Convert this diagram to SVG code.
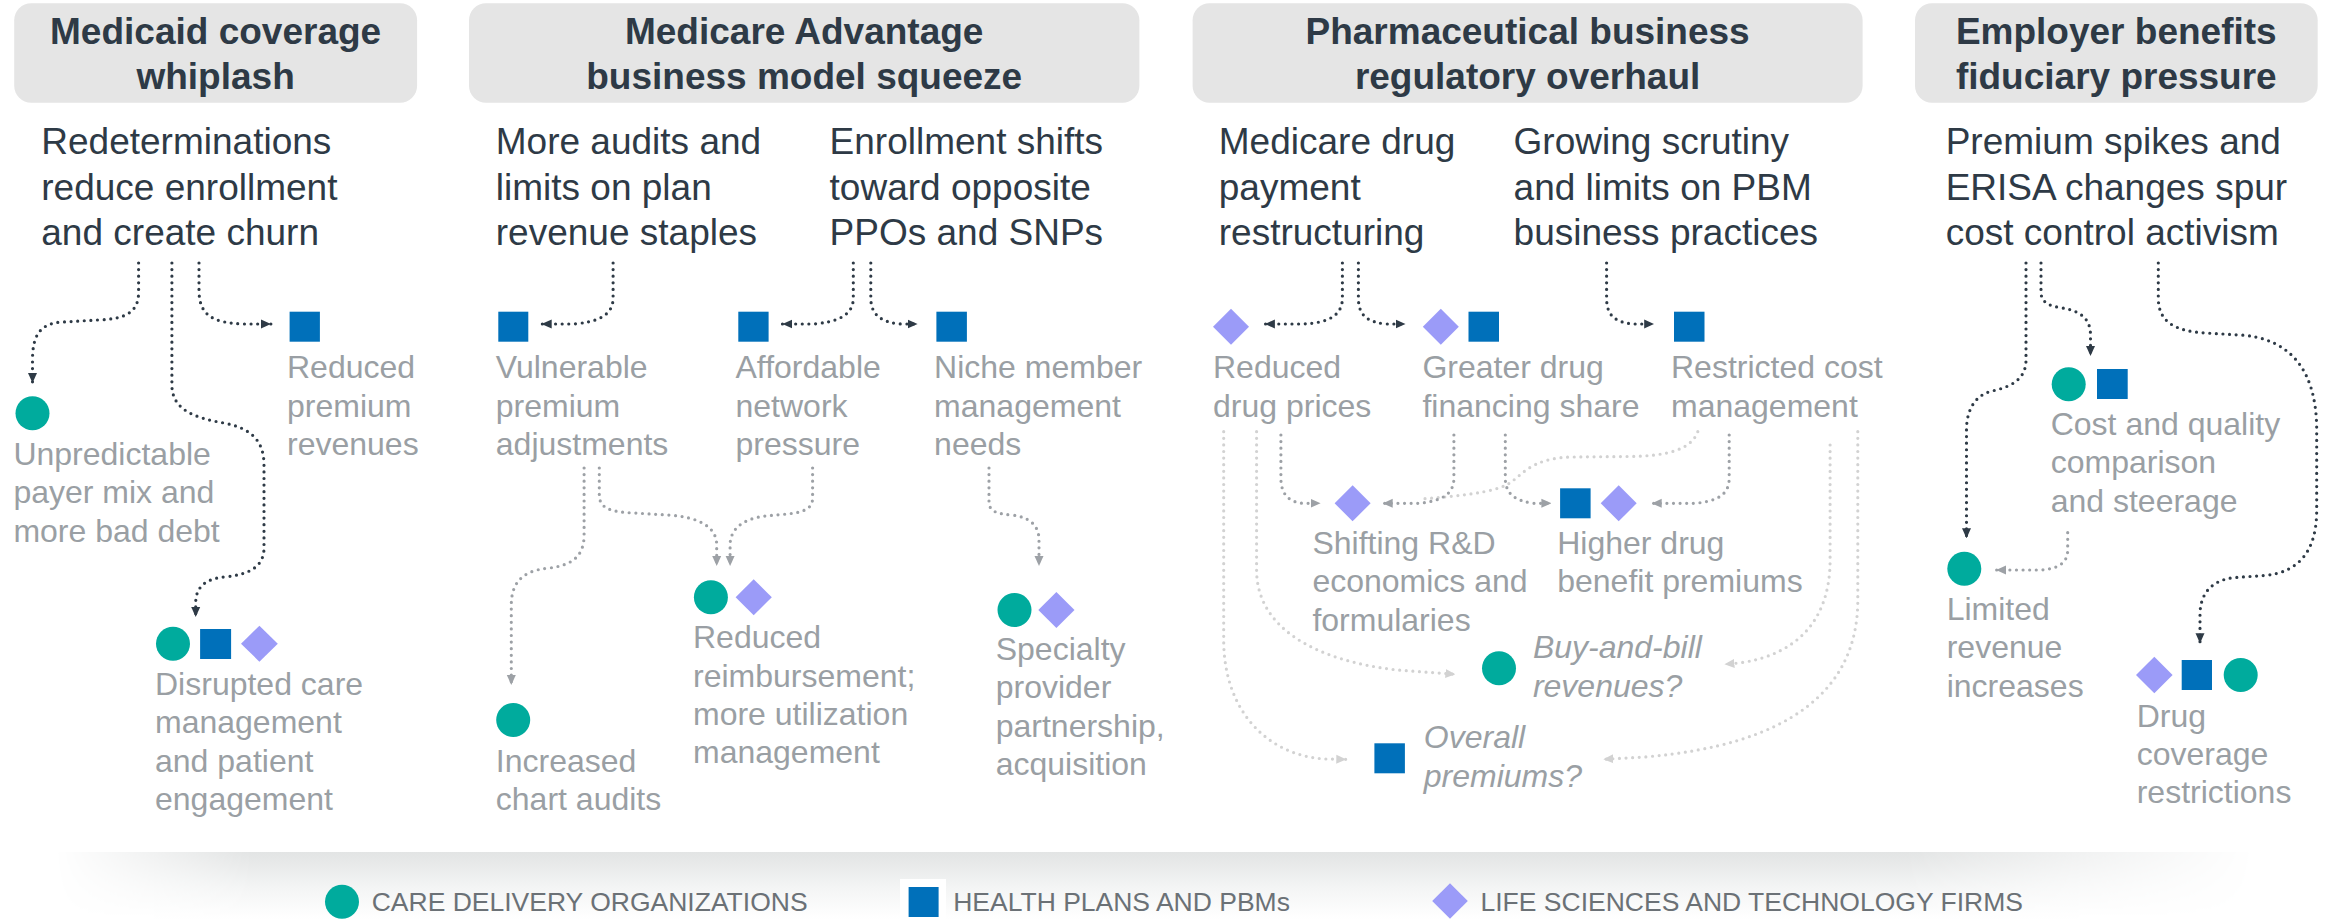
<svg xmlns="http://www.w3.org/2000/svg" width="2331" height="919" viewBox="0 0 2331 919">
  <style>
    .hdr { fill: #E5E5E5; }
    .ttl { font-family: "Liberation Sans", Arial, sans-serif; font-weight: bold; font-size: 37px; fill: #2E3A46; text-anchor: middle; }
    .src { font-family: "Liberation Sans", Arial, sans-serif; font-size: 37px; fill: #2E3A46; }
    .lbl { font-family: "Liberation Sans", Arial, sans-serif; font-size: 32px; fill: #9A9FA4; }
    .ital { font-style: italic; }
    .leg { font-family: "Liberation Sans", Arial, sans-serif; font-size: 26.5px; fill: #6B7176; }
    .care { fill: #00AB9D; }
    .plan { fill: #0070BA; }
    .life { fill: #9B9BF8; }
    .dot { fill: none; stroke-width: 3.2; stroke-linecap: round; stroke-dasharray: 0 6.6; }
    .dark { stroke: #2E3A46; marker-end: url(#arrDark); }
    .gray { stroke: #9DA1A6; marker-end: url(#arrGray); }
    .light { stroke: #D2D2D2; marker-end: url(#arrLight); }
    .light.open { marker-end: none; }
  </style>
  <defs>
    <marker id="arrDark" viewBox="0 0 10 10" refX="10" refY="5" markerWidth="10" markerHeight="10" markerUnits="userSpaceOnUse" orient="auto">
      <path d="M0,0.5 L10,5 L0,9.5 z" fill="#2E3A46"/>
    </marker>
    <marker id="arrGray" viewBox="0 0 10 10" refX="10" refY="5" markerWidth="10" markerHeight="10" markerUnits="userSpaceOnUse" orient="auto">
      <path d="M0,0.5 L10,5 L0,9.5 z" fill="#9DA1A6"/>
    </marker>
    <marker id="arrLight" viewBox="0 0 10 10" refX="10" refY="5" markerWidth="10" markerHeight="10" markerUnits="userSpaceOnUse" orient="auto">
      <path d="M0,0.5 L10,5 L0,9.5 z" fill="#D2D2D2"/>
    </marker>
    <linearGradient id="shadeV" x1="0" y1="0" x2="0" y2="1">
      <stop offset="0" stop-color="#E2E4E4"/>
      <stop offset="0.55" stop-color="#F4F5F5"/>
      <stop offset="1" stop-color="#FFFFFF"/>
    </linearGradient>
    <linearGradient id="fadeH" x1="0" y1="0" x2="1" y2="0">
      <stop offset="0" stop-color="#000"/>
      <stop offset="0.09" stop-color="#fff"/>
      <stop offset="0.84" stop-color="#fff"/>
      <stop offset="1" stop-color="#000"/>
    </linearGradient>
    <mask id="shadeMask" maskUnits="userSpaceOnUse" x="0" y="840" width="2331" height="79">
      <rect x="55" y="852" width="2200" height="67" fill="url(#fadeH)"/>
    </mask>
  </defs>

  <rect width="2331" height="919" fill="#FFFFFF"/>

  <!-- floor shadow under the columns -->
  <rect x="55" y="852" width="2200" height="67" fill="url(#shadeV)" mask="url(#shadeMask)"/>

  <!-- column headers -->
  <g id="hdr-medicaid">
    <rect class="hdr" x="14.2" y="3.3" width="402.9" height="99.4" rx="17"/>
    <text class="ttl"><tspan x="215.6" y="43.5">Medicaid coverage</tspan><tspan x="215.6" y="88.5">whiplash</tspan></text>
  </g>
  <g id="hdr-medicare">
    <rect class="hdr" x="469" y="3.3" width="670.4" height="99.4" rx="17"/>
    <text class="ttl"><tspan x="804.2" y="43.5">Medicare Advantage</tspan><tspan x="804.2" y="88.5">business model squeeze</tspan></text>
  </g>
  <g id="hdr-pharma">
    <rect class="hdr" x="1192.6" y="3.3" width="670" height="99.4" rx="17"/>
    <text class="ttl"><tspan x="1527.6" y="43.5">Pharmaceutical business</tspan><tspan x="1527.6" y="88.5">regulatory overhaul</tspan></text>
  </g>
  <g id="hdr-employer">
    <rect class="hdr" x="1915" y="3.3" width="402.7" height="99.4" rx="17"/>
    <text class="ttl"><tspan x="2116.3" y="43.5">Employer benefits</tspan><tspan x="2116.3" y="88.5">fiduciary pressure</tspan></text>
  </g>

  <!-- connectors -->
  <g id="connectors">
    <!-- Medicaid -->
    <path class="dot dark" d="M138.6,263 V292 C138.6,312 126.3,319 97.6,320 L63.1,322 C40.2,323 32.5,335 32.5,360 V383"/>
    <path class="dot dark" d="M171.9,263 V385 C171.9,410 195.2,418 223.9,423 C250.3,428 264,440 264,465 V548 C264,568 246.8,575 223.9,577 C204.3,579 195.7,588 195.7,603 V617"/>
    <path class="dot dark" d="M199,263 V290 C199,316 213.5,323 244.5,324 H270.9"/>
    <!-- Medicare Advantage -->
    <path class="dot dark" d="M613.1,263 V298 C613.1,316 596.6,322 573.8,324 H541.7"/>
    <path class="dot dark" d="M853.3,263 V298 C853.3,316 836.3,322 813.6,324 H782.4"/>
    <path class="dot dark" d="M870.8,263 V298 C870.8,316 883.2,323 902,324 H917.6"/>
    <path class="dot gray" d="M584.1,468 V535 C584.1,560 567.1,566 547.1,568.3 C520.3,571 511.3,585 511.3,605 V685"/>
    <path class="dot gray" d="M599.3,468 V495 C599.3,508 610,512 634.1,513 L667.6,515 C701.1,517 716.7,528 716.7,545 V566"/>
    <path class="dot gray" d="M812.6,468 V498 C812.6,510 801.5,513 781.4,514.5 L765.4,516 C741.3,519 730.1,530 730.1,545 V566"/>
    <path class="dot gray" d="M989,468 V502 C989,512 998.4,514 1011.8,515 C1029.2,517 1039,525 1039,540 V566"/>
    <!-- Pharmaceutical -->
    <path class="dot dark" d="M1342.4,263 V298 C1342.4,316 1327.4,323 1302.7,324 H1264.9"/>
    <path class="dot dark" d="M1358.4,263 V298 C1358.4,316 1368.2,322 1385.6,324 H1405.5"/>
    <path class="dot dark" d="M1606.6,263 V298 C1606.6,316 1615.3,322 1632.8,324 H1654.2"/>
    <path class="dot light" d="M1223.7,431.7 V640 C1223.7,710 1266.3,755 1324.5,759 L1346.3,759.3"/>
    <path class="dot light" d="M1256.6,431.7 V570 C1256.6,625 1309.9,660 1397.2,670 L1455.4,674.3"/>
    <path class="dot light" d="M1857.8,431.7 V600 C1857.8,690 1789.8,745 1644.4,757 L1603.3,759.3"/>
    <path class="dot light" d="M1830.1,445 V560 C1830.1,620 1797.1,655 1738.9,663 L1724.4,664.3"/>
    <path class="dot light open" d="M1697.8,431.7 C1691,450 1666.2,456 1629.9,456.5 L1571.7,457 C1528.1,458 1520.8,478 1506.3,485 C1491.9,492 1462.7,496 1420,499"/>
    <path class="dot gray" d="M1280.9,435 V478 C1280.9,495 1289.6,502 1302.7,503.3 H1320.6"/>
    <path class="dot gray" d="M1453.9,435 V478 C1453.9,495 1440.8,501 1419,503.3 H1382.7"/>
    <path class="dot gray" d="M1505.3,435 V478 C1505.3,495 1516.5,501 1533.9,503.3 H1551.4"/>
    <path class="dot gray" d="M1729.2,435 V478 C1729.2,495 1717.1,501 1695.3,503.3 H1651.7"/>
    <!-- Employer -->
    <path class="dot dark" d="M2026,263 V360 C2026,380 2010,387 1992,391 C1975,395 1966.5,410 1966.5,430 V538.3"/>
    <path class="dot dark" d="M2041,263 V292 C2041,303 2050,306 2062,308 C2082,311 2090.5,320 2090.5,335 V356"/>
    <path class="dot dark" d="M2158.3,263 V298 C2158.3,322 2175,331 2205,333 L2240,335 C2290,338 2316.7,370 2316.7,430 V510 C2316.7,550 2300,572 2265,575.5 L2235,577.5 C2210,580 2200,595 2200,615 V643.3"/>
    <path class="dot gray" d="M2067.7,532.7 V550 C2067.7,563 2058,569 2040,570 H1996"/>
  </g>

  <!-- Medicaid column -->
  <g id="src-redeterminations">
    <text class="src"><tspan x="41.3" y="154">Redeterminations</tspan><tspan x="41.3" y="199.5">reduce enrollment</tspan><tspan x="41.3" y="245">and create churn</tspan></text>
  </g>
  <g id="n-reduced-premium">
    <rect class="plan" x="289.6" y="311.7" width="30.3" height="30"/>
    <text class="lbl"><tspan x="287" y="378.3">Reduced</tspan><tspan x="287" y="416.6">premium</tspan><tspan x="287" y="454.9">revenues</tspan></text>
  </g>
  <g id="n-unpredictable">
    <circle class="care" cx="32.5" cy="413.3" r="17"/>
    <text class="lbl"><tspan x="13.4" y="465">Unpredictable</tspan><tspan x="13.4" y="503.3">payer mix and</tspan><tspan x="13.4" y="541.6">more bad debt</tspan></text>
  </g>
  <g id="n-disrupted">
    <circle class="care" cx="173" cy="643.7" r="17"/>
    <rect class="plan" x="200.1" y="629" width="31" height="30"/>
    <polygon class="life" points="241,643.7 259.4,625.7 277.8,643.7 259.4,661.7"/>
    <text class="lbl"><tspan x="155" y="695">Disrupted care</tspan><tspan x="155" y="733.3">management</tspan><tspan x="155" y="771.6">and patient</tspan><tspan x="155" y="809.9">engagement</tspan></text>
  </g>

  <!-- Medicare Advantage column -->
  <g id="src-audits">
    <text class="src"><tspan x="495.8" y="154">More audits and</tspan><tspan x="495.8" y="199.5">limits on plan</tspan><tspan x="495.8" y="245">revenue staples</tspan></text>
  </g>
  <g id="src-enrollment">
    <text class="src"><tspan x="829.6" y="154">Enrollment shifts</tspan><tspan x="829.6" y="199.5">toward opposite</tspan><tspan x="829.6" y="245">PPOs and SNPs</tspan></text>
  </g>
  <g id="n-vulnerable">
    <rect class="plan" x="498.3" y="311.7" width="30" height="30"/>
    <text class="lbl"><tspan x="495.8" y="378.3">Vulnerable</tspan><tspan x="495.8" y="416.6">premium</tspan><tspan x="495.8" y="454.9">adjustments</tspan></text>
  </g>
  <g id="n-affordable">
    <rect class="plan" x="738.3" y="311.7" width="30.3" height="30"/>
    <text class="lbl"><tspan x="735.5" y="378.3">Affordable</tspan><tspan x="735.5" y="416.6">network</tspan><tspan x="735.5" y="454.9">pressure</tspan></text>
  </g>
  <g id="n-niche">
    <rect class="plan" x="936.4" y="311.7" width="30.5" height="30"/>
    <text class="lbl"><tspan x="934.1" y="378.3">Niche member</tspan><tspan x="934.1" y="416.6">management</tspan><tspan x="934.1" y="454.9">needs</tspan></text>
  </g>
  <g id="n-reimbursement">
    <circle class="care" cx="710.9" cy="597.3" r="17"/>
    <polygon class="life" points="735.6,597.3 753.7,579.3 771.8,597.3 753.7,615.3"/>
    <text class="lbl"><tspan x="693" y="648.3">Reduced</tspan><tspan x="693" y="686.6">reimbursement;</tspan><tspan x="693" y="724.9">more utilization</tspan><tspan x="693" y="763.2">management</tspan></text>
  </g>
  <g id="n-chart-audits">
    <circle class="care" cx="513.2" cy="720" r="17"/>
    <text class="lbl"><tspan x="495.8" y="771.7">Increased</tspan><tspan x="495.8" y="810">chart audits</tspan></text>
  </g>
  <g id="n-specialty">
    <circle class="care" cx="1014.5" cy="610" r="17"/>
    <polygon class="life" points="1038.3,610 1056.4,592 1074.5,610 1056.4,628"/>
    <text class="lbl"><tspan x="995.7" y="660">Specialty</tspan><tspan x="995.7" y="698.3">provider</tspan><tspan x="995.7" y="736.6">partnership,</tspan><tspan x="995.7" y="774.9">acquisition</tspan></text>
  </g>

  <!-- Pharmaceutical column -->
  <g id="src-drug-payment">
    <text class="src"><tspan x="1218.8" y="154">Medicare drug</tspan><tspan x="1218.8" y="199.5">payment</tspan><tspan x="1218.8" y="245">restructuring</tspan></text>
  </g>
  <g id="src-pbm">
    <text class="src"><tspan x="1513.6" y="154">Growing scrutiny</tspan><tspan x="1513.6" y="199.5">and limits on PBM</tspan><tspan x="1513.6" y="245">business practices</tspan></text>
  </g>
  <g id="n-reduced-prices">
    <polygon class="life" points="1213,326.7 1231,308.7 1249,326.7 1231,344.7"/>
    <text class="lbl"><tspan x="1213" y="378.3">Reduced</tspan><tspan x="1213" y="416.6">drug prices</tspan></text>
  </g>
  <g id="n-financing">
    <polygon class="life" points="1422.8,326.7 1440.8,308.7 1458.8,326.7 1440.8,344.7"/>
    <rect class="plan" x="1468.5" y="311.7" width="30.5" height="30"/>
    <text class="lbl"><tspan x="1422.4" y="378.3">Greater drug</tspan><tspan x="1422.4" y="416.6">financing share</tspan></text>
  </g>
  <g id="n-restricted">
    <rect class="plan" x="1674" y="311.7" width="30.5" height="30"/>
    <text class="lbl"><tspan x="1671" y="378.3">Restricted cost</tspan><tspan x="1671" y="416.6">management</tspan></text>
  </g>
  <g id="n-shifting">
    <polygon class="life" points="1334.6,503.3 1352.6,485.3 1370.6,503.3 1352.6,521.3"/>
    <text class="lbl"><tspan x="1312.4" y="554">Shifting R&amp;D</tspan><tspan x="1312.4" y="592.3">economics and</tspan><tspan x="1312.4" y="630.6">formularies</tspan></text>
  </g>
  <g id="n-higher-premiums">
    <rect class="plan" x="1560.1" y="488.3" width="30.5" height="30"/>
    <polygon class="life" points="1600.7,503.3 1618.7,485.3 1636.7,503.3 1618.7,521.3"/>
    <text class="lbl"><tspan x="1557.2" y="554">Higher drug</tspan><tspan x="1557.2" y="592.3">benefit premiums</tspan></text>
  </g>
  <g id="n-buy-bill">
    <circle class="care" cx="1499" cy="668.3" r="17"/>
    <text class="lbl ital"><tspan x="1532.9" y="658.3">Buy-and-bill</tspan><tspan x="1532.9" y="696.6">revenues?</tspan></text>
  </g>
  <g id="n-overall">
    <rect class="plan" x="1374.4" y="743.3" width="30.5" height="30"/>
    <text class="lbl ital"><tspan x="1423.8" y="748.3">Overall</tspan><tspan x="1423.8" y="786.6">premiums?</tspan></text>
  </g>

  <!-- Employer column -->
  <g id="src-premium-spikes">
    <text class="src"><tspan x="1945.7" y="154">Premium spikes and</tspan><tspan x="1945.7" y="199.5">ERISA changes spur</tspan><tspan x="1945.7" y="245">cost control activism</tspan></text>
  </g>
  <g id="n-cost-quality">
    <circle class="care" cx="2068.7" cy="384.3" r="17"/>
    <rect class="plan" x="2097" y="369" width="30.7" height="30"/>
    <text class="lbl"><tspan x="2050.7" y="435">Cost and quality</tspan><tspan x="2050.7" y="473.3">comparison</tspan><tspan x="2050.7" y="511.6">and steerage</tspan></text>
  </g>
  <g id="n-limited">
    <circle class="care" cx="1964.3" cy="568.7" r="17"/>
    <text class="lbl"><tspan x="1946.7" y="620">Limited</tspan><tspan x="1946.7" y="658.3">revenue</tspan><tspan x="1946.7" y="696.6">increases</tspan></text>
  </g>
  <g id="n-drug-coverage">
    <polygon class="life" points="2136,675 2154.3,656.7 2172.6,675 2154.3,693.3"/>
    <rect class="plan" x="2181.7" y="660" width="30.3" height="30"/>
    <circle class="care" cx="2240.7" cy="675" r="17"/>
    <text class="lbl"><tspan x="2136.7" y="726.7">Drug</tspan><tspan x="2136.7" y="765">coverage</tspan><tspan x="2136.7" y="803.3">restrictions</tspan></text>
  </g>

  <!-- legend -->
  <g id="legend">
    <circle class="care" cx="342" cy="901.7" r="17"/>
    <text class="leg" x="371.7" y="910.7">CARE DELIVERY ORGANIZATIONS</text>
    <rect x="900" y="879" width="46" height="40" fill="#FFFFFF"/>
    <rect class="plan" x="908.6" y="887" width="30" height="30"/>
    <text class="leg" x="953.2" y="910.7">HEALTH PLANS AND PBMs</text>
    <polygon class="life" points="1432.2,901 1450,883.3 1467.8,901 1450,918.7"/>
    <text class="leg" x="1480.5" y="910.7">LIFE SCIENCES AND TECHNOLOGY FIRMS</text>
  </g>
</svg>
